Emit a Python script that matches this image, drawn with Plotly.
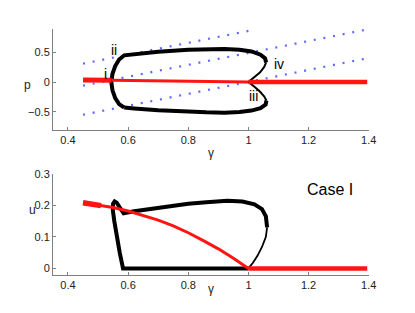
import plotly.graph_objects as go

# ---------------- data ----------------
# top panel (p vs gamma)
red_top_left_g = [0.45, 0.50, 0.545]
red_top_left_p = [0.036, 0.033, 0.030]
red_top_mid_g = [0.545, 0.65, 0.75, 0.85, 0.95, 1.00]
red_top_mid_p = [0.030, 0.024, 0.017, 0.011, 0.004, 0.0]
red_top_right_g = [1.00, 1.10, 1.20, 1.30, 1.395]
red_top_right_p = [0.0, 0.0, 0.0, 0.0, 0.0]

blk_top_g = [0.587, 0.570, 0.557, 0.548, 0.544, 0.548, 0.557, 0.570, 0.587, 0.62, 0.70,
             0.80, 0.86, 0.92, 0.97, 1.01, 1.04, 1.055, 1.059]
blk_top_p = [-0.43, -0.37, -0.27, -0.14, 0.0, 0.14, 0.27, 0.38, 0.45, 0.47, 0.51,
             0.545, 0.556, 0.558, 0.545, 0.515, 0.46, 0.40, 0.33]
blk_top_thin_g = [1.059, 1.052, 1.038, 1.02, 1.0, 1.02, 1.038, 1.052, 1.06]
blk_top_thin_p = [0.33, 0.25, 0.16, 0.08, 0.0, -0.08, -0.16, -0.24, -0.31]
blk_top_low_g = [1.06, 1.057, 1.04, 1.01, 0.97, 0.92, 0.86, 0.80, 0.70, 0.62, 0.587]
blk_top_low_p = [-0.31, -0.38, -0.44, -0.48, -0.505, -0.515, -0.51, -0.50, -0.475, -0.445, -0.43]

dot_lines_g = [[0.45, 1.02], [0.45, 1.385], [0.45, 1.385]]
dot_lines_p = [[0.31, 0.88], [-0.06, 0.875], [-0.55, 0.39]]

labels_top = ["i", "ii", "iii", "iv"]
labels_g = [0.525, 0.552, 1.016, 1.100]
labels_p = [0.13, 0.54, -0.23, 0.31]

# bottom panel (u vs gamma)
red_bot_g = [0.45, 0.50, 0.55, 0.60, 0.65, 0.70, 0.75, 0.80, 0.85, 0.90, 0.95, 1.00]
red_bot_u = [0.208, 0.201, 0.193, 0.182, 0.168, 0.153, 0.135, 0.113, 0.088, 0.062, 0.032, 0.0]
red_bot_left_g = [0.45, 0.48, 0.51]
red_bot_left_u = [0.208, 0.204, 0.199]
red_bot_right_g = [1.00, 1.10, 1.20, 1.30, 1.395]
red_bot_right_u = [0.0, 0.0, 0.0, 0.0, 0.0]

blk_bot_g = [1.0, 0.9, 0.8, 0.7, 0.6, 0.583, 0.572, 0.562, 0.554, 0.549, 0.550, 0.555, 0.562,
             0.573, 0.585, 0.62, 0.70, 0.80, 0.86, 0.93, 0.98, 1.02, 1.045, 1.058, 1.062]
blk_bot_u = [0, 0, 0, 0, 0, 0.0, 0.05, 0.10, 0.15, 0.185, 0.205, 0.212, 0.208,
             0.192, 0.175, 0.181, 0.193, 0.205, 0.210, 0.214, 0.212, 0.203, 0.188, 0.165, 0.13]
blk_bot_thin_g = [1.062, 1.058, 1.045, 1.03, 1.015, 1.0]
blk_bot_thin_u = [0.13, 0.10, 0.068, 0.04, 0.018, 0.0]

x_ticks = [0.4, 0.6, 0.8, 1.0, 1.2, 1.4]
x_ticktext = ["0.4", "0.6", "0.8", "1", "1.2", "1.4"]
p_ticks = [-0.5, 0, 0.5]
p_ticktext = ["\u22120.5", "0", "0.5"]
u_ticks = [0, 0.1, 0.2, 0.3]
u_ticktext = ["0", "0.1", "0.2", "0.3"]

RED = "rgb(255,20,20)"
BLUE = "rgb(95,105,250)"
FONT = "Liberation Sans, Arial, sans-serif"

fig = go.Figure()

def line(x, y, color, width, xa="x", ya="y", dash=None):
    fig.add_trace(go.Scatter(x=x, y=y, mode="lines", xaxis=xa, yaxis=ya,
                             line=dict(color=color, width=width, dash=dash),
                             hoverinfo="skip", showlegend=False))

# top panel
for g, p in zip(dot_lines_g, dot_lines_p):
    line(g, p, BLUE, 2.2, dash="2px,7.8px")
line(blk_top_g, blk_top_p, "black", 4)
line(blk_top_thin_g, blk_top_thin_p, "black", 2)
line(blk_top_low_g, blk_top_low_p, "black", 4)
line(red_top_mid_g, red_top_mid_p, RED, 3)
line(red_top_left_g, red_top_left_p, RED, 5)
line(red_top_right_g, red_top_right_p, RED, 4.5)

# bottom panel
line(blk_bot_g, blk_bot_u, "black", 4, "x2", "y2")
line(blk_bot_thin_g, blk_bot_thin_u, "black", 1.8, "x2", "y2")
line(red_bot_g, red_bot_u, RED, 3, "x2", "y2")
line(red_bot_left_g, red_bot_left_u, RED, 5.5, "x2", "y2")
line(red_bot_right_g, red_bot_right_u, RED, 4.5, "x2", "y2")

axis_common = dict(showline=True, linecolor="rgb(128,128,128)", linewidth=1,
                   ticks="inside", ticklen=3, tickcolor="rgb(128,128,128)",
                   showgrid=False, zeroline=False, mirror=False,
                   tickfont=dict(family=FONT, size=11, color="#222"))

fig.update_layout(
    width=415, height=313,
    margin=dict(l=0, r=0, t=0, b=0),
    paper_bgcolor="white", plot_bgcolor="white",
    xaxis=dict(domain=[0.1301, 0.906], range=[0.35, 1.4], anchor="y",
               tickvals=x_ticks, ticktext=x_ticktext, **axis_common),
    yaxis=dict(domain=[0.5974, 0.9265], range=[-0.8, 0.9], anchor="x",
               tickvals=p_ticks, ticktext=p_ticktext, **axis_common),
    xaxis2=dict(domain=[0.1301, 0.906], range=[0.35, 1.4], anchor="y2",
                tickvals=x_ticks, ticktext=x_ticktext, **axis_common),
    yaxis2=dict(domain=[0.1246, 0.4537], range=[-0.02, 0.3], anchor="x2",
                tickvals=u_ticks, ticktext=u_ticktext, **axis_common),
)

anns = []
for t, g, p in zip(labels_top, labels_g, labels_p):
    anns.append(dict(x=g, y=p, xref="x", yref="y", text=t, showarrow=False,
                     font=dict(family=FONT, size=14, color="black")))
anns.append(dict(x=1.27, y=0.25, xref="x2", yref="y2", text="Case I", showarrow=False,
                 font=dict(family=FONT, size=16, color="black")))
# axis titles
anns.append(dict(x=0.518, y=0.5208, xref="paper", yref="paper", text="\u03b3", showarrow=False,
                 font=dict(family=FONT, size=12, color="#222")))
anns.append(dict(x=0.518, y=0.0479, xref="paper", yref="paper", text="\u03b3", showarrow=False,
                 font=dict(family=FONT, size=12, color="#222")))
anns.append(dict(x=0.053, y=0.773, xref="paper", yref="paper", text="p", showarrow=False,
                 font=dict(family=FONT, size=12, color="#222")))
anns.append(dict(x=0.066, y=0.3067, xref="paper", yref="paper", text="u", showarrow=False,
                 font=dict(family=FONT, size=12, color="#222")))
fig.update_layout(annotations=anns)

fig.write_html("out.html", config={"displayModeBar": False},
               post_script="document.body.style.margin='0';document.body.style.overflow='hidden';")
